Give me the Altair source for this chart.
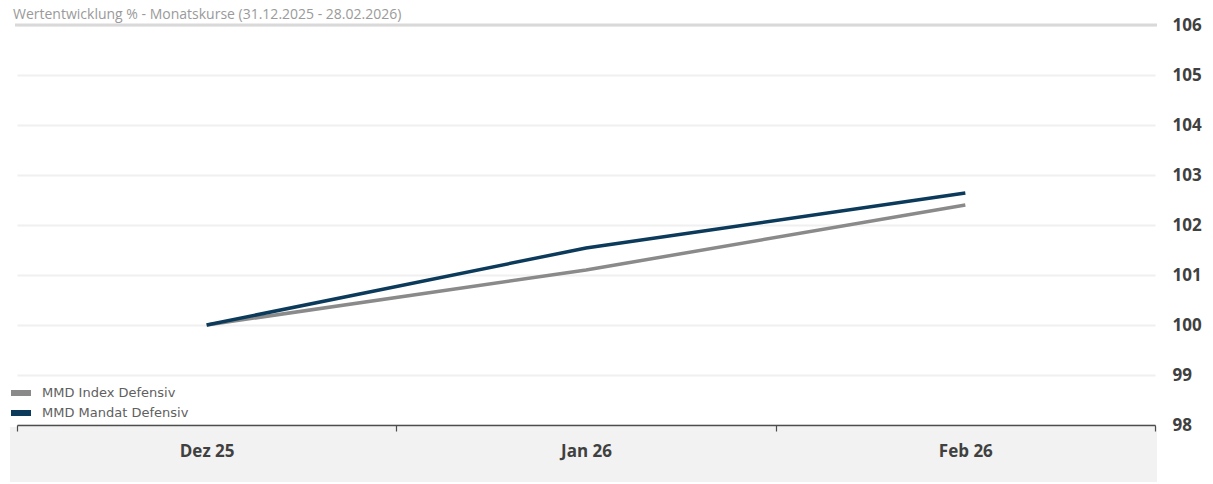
import altair as alt
import pandas as pd

months = ["Dez 25", "Jan 26", "Feb 26"]
series_names = ["MMD Index Defensiv", "MMD Mandat Defensiv"]
index_values = [100.0, 101.1, 102.4]
mandat_values = [100.0, 101.54, 102.64]
y_ticks = [98, 99, 100, 101, 102, 103, 104, 105, 106]
title_text = "Wertentwicklung %  - Monatskurse (31.12.2025 - 28.02.2026)"
colors = ["#8a8a8a", "#0c3a5b"]

rows = []
for m, v in zip(months, index_values):
    rows.append({"Monat": m, "Serie": series_names[0], "Wert": v})
for m, v in zip(months, mandat_values):
    rows.append({"Monat": m, "Serie": series_names[1], "Wert": v})
df = pd.DataFrame(rows)

W, H = 1138, 400

x_enc = alt.X(
    "Monat:N",
    sort=months,
    scale=alt.Scale(type="band", paddingInner=0, paddingOuter=0),
    axis=alt.Axis(
        title=None, orient="bottom", labelAngle=0, tickBand="extent",
        domainColor="#4d4d4d", domainWidth=1.5, tickColor="#4d4d4d", tickWidth=1.2,
        tickSize=6, labelPadding=12, labelFont="Open Sans", labelFontSize=17,
        labelFontWeight="bold", labelColor="#404040", zindex=1,
    ),
)
y_enc = alt.Y(
    "Wert:Q",
    scale=alt.Scale(domain=[98, 106], nice=False, zero=False),
    axis=alt.Axis(
        title=None, orient="right", values=y_ticks, domain=False, ticks=False,
        labelPadding=17, labelFont="Open Sans", labelFontSize=17,
        labelFontWeight="bold", labelColor="#404040",
        gridColor="#f0f0f0", gridWidth=2, format="d",
    ),
)

band = alt.Chart(pd.DataFrame({"b": [0]})).mark_rect(color="#f2f2f2", clip=False).encode(
    x=alt.value(-7), x2=alt.value(W + 2), y=alt.value(H + 2), y2=alt.value(H + 60)
)

top_rule = alt.Chart(pd.DataFrame({"v": [106]})).mark_rule(
    color="#d9d9d9", strokeWidth=3
).encode(y=alt.Y("v:Q", scale=alt.Scale(domain=[98, 106])), x=alt.value(-2), x2=alt.value(W + 2))

title = alt.Chart(pd.DataFrame({"t": [title_text]})).mark_text(
    align="left", baseline="alphabetic", font="Open Sans", fontSize=14, color="#9a9a9a"
).encode(x=alt.value(-4), y=alt.value(-6), text="t:N")

lines = alt.Chart(df).mark_line(strokeWidth=3.5).encode(
    x=x_enc,
    y=y_enc,
    color=alt.Color(
        "Serie:N",
        scale=alt.Scale(domain=series_names, range=colors),
        legend=alt.Legend(
            title=None, orient="none", legendX=-6, legendY=358,
            symbolType="M-1.43,0L1.43,0", symbolSize=196, symbolStrokeWidth=6,
            labelFont="DejaVu Sans", labelFontSize=13, labelColor="#606060",
            labelOffset=11, rowPadding=0, padding=0, clipHeight=20,
        ),
    ),
    order=alt.Order("Serie:N"),
)

chart = alt.layer(band, top_rule, lines, title).properties(
    width=W, height=H,
    autosize=alt.AutoSizeParams(type="none"),
    padding={"left": 9, "top": 17, "right": 50, "bottom": 57},
).configure_view(stroke=None)

chart.save("out.html", embed_options={"renderer": "svg", "actions": False})
